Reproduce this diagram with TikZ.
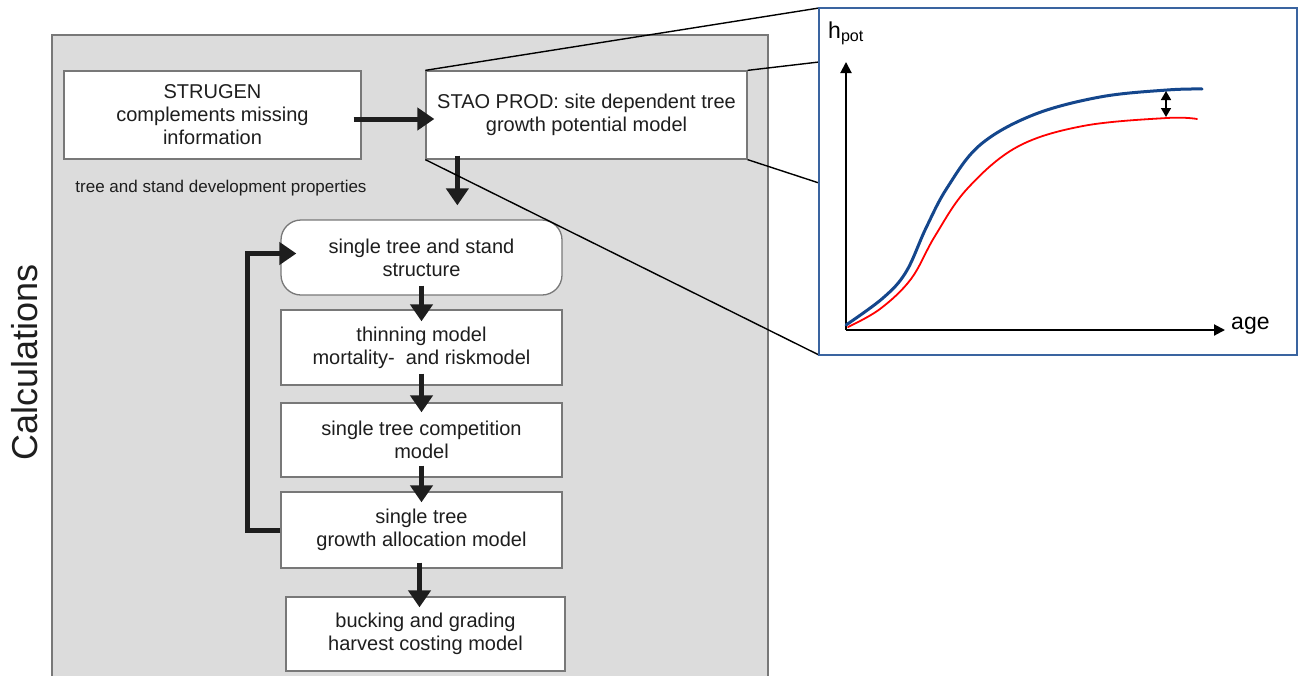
\documentclass[tikz,border=0pt]{standalone}
\usepackage{fontspec}
\setmainfont{Liberation Sans}
\usetikzlibrary{positioning,arrows.meta}
\definecolor{panelgray}{RGB}{220,220,220}
\definecolor{boxline}{RGB}{120,120,120}
\definecolor{chartblue}{RGB}{58,100,160}
\definecolor{curveblue}{RGB}{20,70,140}
\definecolor{flowblack}{RGB}{30,30,30}

\begin{document}
\begin{tikzpicture}[x=1pt,y=-1pt,
    box/.style={draw=boxline, line width=1.3pt, fill=white, align=center, inner sep=0pt,
        text=flowblack, font=\fontsize{20}{23}\selectfont},
    flow/.style={line width=5pt, flowblack, -{Triangle[length=17pt,width=22pt]}},
    zoomline/.style={line width=1.4pt},
    axis/.style={line width=2pt, -{Triangle[length=11pt,width=11pt]}}]
    \useasboundingbox (0,0) rectangle (1301,675);
    % background panel
    \draw[boxline, line width=1.3pt, fill=panelgray] (52,35) rectangle (768,690);
    \node[rotate=90, font=\fontsize{36}{40}\selectfont, text=flowblack] (calc) at (25,362) {Calculations};
    % model boxes
    \node[box, minimum width=297pt, minimum height=88pt] (strugen) at (212.5,115) {STRUGEN\\complements missing\\information};
    \node[box, minimum width=321pt, minimum height=88pt] (staoprod) at (586.5,115) {STAO PROD: site dependent tree\\growth potential model};
    \node[font=\fontsize{17}{20}\selectfont, text=flowblack] (props) at (221,188) {tree and stand development properties};
    \node[box, rounded corners=20pt, minimum width=281pt, minimum height=75pt] (structure) at (421.5,257.5) {single tree and stand\\structure};
    \node[box, minimum width=281pt, minimum height=75pt] (thinning) at (421.5,347.5) {thinning model\\mortality-\ \ and riskmodel};
    \node[box, minimum width=281pt, minimum height=74pt] (competition) at (421.5,440) {single tree competition\\model};
    \node[box, minimum width=281pt, minimum height=76pt] (allocation) at (421.5,530) {single tree\\growth allocation model};
    \node[box, minimum width=279pt, minimum height=74pt] (bucking) at (425.5,634) {bucking and grading\\harvest costing model};
    % flow arrows
    \draw[flow, shorten <=-8pt, shorten >=-9pt] ([yshift=-4pt]strugen.east) -- ([yshift=-4pt]staoprod.west);
    \draw[flow, shorten >=10pt] ([xshift=32pt,yshift=4pt]staoprod.south west) -- ([xshift=32pt,yshift=4pt]staoprod.south west |- structure.north);
    \draw[flow, shorten <=-10pt, shorten >=-12pt] (structure) -- (thinning);
    \draw[flow, shorten <=-12pt, shorten >=-10pt] (thinning) -- (competition);
    \draw[flow, shorten <=-12pt, shorten >=-11pt] (competition) -- (allocation);
    \draw[flow, shorten <=-6pt, shorten >=-11pt] ([xshift=-2pt]allocation.south) -- ([xshift=-2pt]allocation.south |- bucking.north);
    \draw[flow, shorten >=-16pt] (allocation.west) -- ++(-33,0) |- ([yshift=4pt]structure.west);
    % zoom onto the growth potential chart
    \coordinate (zoomtop) at (819,62);
    \coordinate (zoombot) at (819,183);
    \draw[zoomline] (staoprod.north west) -- (819,8);
    \draw[zoomline] (staoprod.north east) -- (zoomtop);
    \draw[zoomline] (staoprod.south east) -- (zoombot);
    \draw[zoomline] (staoprod.south west) -- (819,355);
    \node[draw=chartblue, line width=1.6pt, fill=white, minimum width=478pt, minimum height=347pt, inner sep=0pt] (chart) at (1058,181.5) {};
    % chart
    \coordinate (origin) at (846,330);
    \coordinate (ytop) at (846,62);
    \coordinate (xend) at (1225,330);
    \draw[axis] (origin) -- (ytop);
    \draw[axis] (origin) -- (xend);
    \node[anchor=base west, inner sep=0pt, font=\fontsize{23}{26}\selectfont] (hpot) at (828,38) {h\textsubscript{pot}};
    \node[anchor=west, inner sep=0pt, font=\fontsize{23}{26}\selectfont] (age) at (1231,326) {age};
    \draw[curveblue, line width=3pt, line cap=round] plot[smooth, tension=0.6] coordinates {(846,325) (883,298) (906,272) (926,228) (947,188) (980,145) (1033,115) (1100,97) (1167,90) (1202,89)};
    \draw[red, line width=1.8pt, line cap=round] plot[smooth, tension=0.6] coordinates {(848,327) (880,309) (911,279) (935,236) (967,189) (1017,147) (1083,126) (1167,118) (1197,119)};
    \coordinate (gaptop) at (1166,91);
    \coordinate (gapbot) at (1166,117);
    \draw[line width=1.6pt, {Triangle[length=9pt,width=10pt]}-{Triangle[length=9pt,width=10pt]}] (gaptop) -- (gapbot);
\end{tikzpicture}
\end{document}
